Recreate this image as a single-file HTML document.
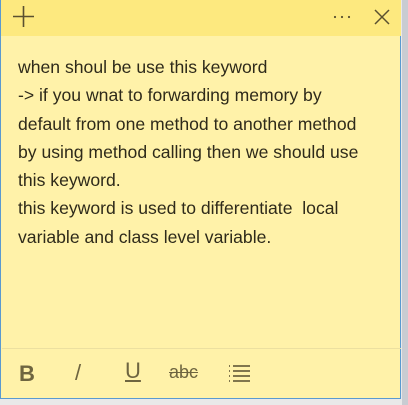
<!DOCTYPE html>
<html><head><style>
html,body{margin:0;padding:0;width:408px;height:405px;overflow:hidden;background:#e9e9e9;}
.strip{position:absolute;left:402px;top:0;width:6px;height:405px;background:#c9ccd2;}
.note{position:absolute;left:0;top:0;width:401px;height:399px;background:#fff2a9;border:1px solid #5a9ad0;border-top:none;box-sizing:border-box;}
.head{position:absolute;left:0;top:0;width:400px;height:36px;background:#fde97f;}
.txt{position:absolute;left:17px;top:53px;width:385px;font-family:"Liberation Sans",sans-serif;font-size:17.6px;line-height:28.3px;color:#2e2a1a;white-space:pre;}
.sep{position:absolute;left:1px;top:348px;width:399px;height:1px;background:#ece0a0;}
.tb{position:absolute;font-family:"Liberation Sans",sans-serif;color:#6e6540;}
</style></head><body>
<div class="strip"></div>
<div class="note">
<div class="head">
<svg width="400" height="36" style="position:absolute;left:0;top:0">
<path d="M12 16.5H33M22.5 6V27" stroke="#5a5030" stroke-width="1.6"/>
<circle cx="334" cy="17" r="1.1" fill="#5a5030"/><circle cx="341" cy="17" r="1.1" fill="#5a5030"/><circle cx="348" cy="17" r="1.1" fill="#5a5030"/>
<path d="M374 10L388 24M388 10L374 24" stroke="#5a5030" stroke-width="1.5"/>
</svg>
</div>
<div class="txt">when shoul be use this keyword
-&gt; if you wnat to forwarding memory by
default from one method to another method
by using method calling then we should use
this keyword.
this keyword is used to differentiate  local
variable and class level variable.</div>
<div class="sep"></div>
<div class="tb" style="left:18px;top:361px;font-size:22px;font-weight:bold;">B</div>
<div class="tb" style="left:74px;top:360px;font-size:22px;">/</div>
<div class="tb" style="left:124px;top:358px;font-size:22px;text-decoration:underline;">U</div>
<div class="tb" style="left:168px;top:362px;font-size:18px;text-decoration:line-through;">abc</div>
<svg class="tb" style="left:226px;top:364px" width="26" height="20"><g stroke="#6e6540" stroke-width="1.8"><path d="M2 2h1M6 2h17M2 7h1M6 7h17M2 12h1M6 12h17M2 17h1M6 17h17"/></g></svg>
</div>
</body></html>
